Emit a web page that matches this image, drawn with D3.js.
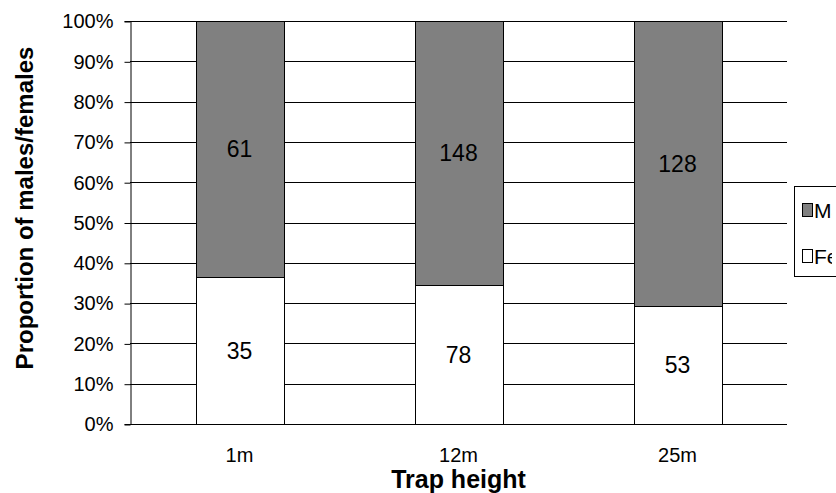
<!DOCTYPE html>
<html><head><meta charset="utf-8">
<script src="https://cdn.jsdelivr.net/npm/d3@7"></script>
<style>body{margin:0;background:#fff;overflow:hidden}svg{display:block;font-family:"Liberation Sans",Arial,sans-serif}</style>
</head><body>
<svg id="c" width="836" height="493"></svg>
<script>
const categories = ["1m","12m","25m"];
const females = [35,78,53];
const males = [61,148,128];
const seriesNames = ["Males","Females"];
const yTicks = [0,0.1,0.2,0.3,0.4,0.5,0.6,0.7,0.8,0.9,1];

const svg = d3.select("#c");
const m = {l:130, r:787, t:21, b:424};
const x = d3.scaleBand().domain(categories).range([m.l,m.r]).paddingInner(0.6).paddingOuter(0.3);
const y = d3.scaleLinear().domain([0,1]).range([m.b,m.t]);

svg.append("g").selectAll("line").data(yTicks.slice(1)).join("line")
  .attr("x1",m.l).attr("x2",m.r).attr("y1",d=>Math.round(y(d))+0.5).attr("y2",d=>Math.round(y(d))+0.5)
  .attr("stroke","#000").attr("stroke-width",1);

const data = categories.map((c,i)=>{const t=females[i]+males[i];return {c,f:females[i],m:males[i],fp:females[i]/t};});

const g = svg.append("g");
g.selectAll("rect.f").data(data).join("rect").attr("class","f")
  .attr("x",d=>Math.round(x(d.c))+0.5).attr("width",Math.round(x.bandwidth()))
  .attr("y",d=>Math.round(y(d.fp))+0.5).attr("height",d=>Math.round(y(0))-Math.round(y(d.fp)))
  .attr("fill","#fff").attr("stroke","#000");
g.selectAll("rect.m").data(data).join("rect").attr("class","m")
  .attr("x",d=>Math.round(x(d.c))+0.5).attr("width",Math.round(x.bandwidth()))
  .attr("y",Math.round(y(1))+0.5).attr("height",d=>Math.round(y(d.fp))-Math.round(y(1)))
  .attr("fill","#808080").attr("stroke","#000");

g.selectAll("text.fl").data(data).join("text")
  .attr("x",d=>x(d.c)+x.bandwidth()/2).attr("y",d=>y(d.fp/2)).attr("dy","0.36em")
  .attr("text-anchor","middle").attr("font-size",23).text(d=>d.f);
g.selectAll("text.ml").data(data).join("text")
  .attr("x",d=>x(d.c)+x.bandwidth()/2).attr("y",d=>y((d.fp+1)/2)).attr("dy","0.36em")
  .attr("text-anchor","middle").attr("font-size",23).text(d=>d.m);

const ya = svg.append("g").attr("transform",`translate(${m.l+0.5},0)`)
  .call(d3.axisLeft(y).tickValues(yTicks).tickFormat(d3.format(".0%")).tickSize(6).tickPadding(11));
ya.select(".domain").attr("stroke","#000");
ya.selectAll(".tick line").attr("transform","translate(0,0.5)");
ya.selectAll("text").attr("font-size",20).attr("font-family","Liberation Sans, Arial").attr("fill","#000").attr("dy","0.34em");

svg.append("line").attr("x1",m.l).attr("x2",m.r).attr("y1",Math.round(y(0))+0.5).attr("y2",Math.round(y(0))+0.5).attr("stroke","#000");
svg.append("g").selectAll("text").data(categories).join("text")
  .attr("x",d=>x(d)+x.bandwidth()/2).attr("y",462)
  .attr("text-anchor","middle").attr("font-size",20).text(d=>d);

svg.append("text").attr("x",(m.l+m.r)/2).attr("y",488)
  .attr("text-anchor","middle").attr("font-size",25).attr("font-weight","bold").text("Trap height");
svg.append("text").attr("transform","translate(24,208) rotate(-90)").attr("dy","0.36em")
  .attr("text-anchor","middle").attr("font-size",24).attr("font-weight","bold").text("Proportion of males/females");

const defs = svg.append("defs");
defs.append("clipPath").attr("id","lgclip").append("rect").attr("x",790).attr("y",180).attr("width",42).attr("height",110);
const lg = svg.append("g");
lg.append("rect").attr("x",794.5).attr("y",186.5).attr("width",80).attr("height",90).attr("fill","#fff").attr("stroke","#000");
const cols = ["#808080","#fff"];
const lgt = lg.append("g").attr("clip-path","url(#lgclip)");
seriesNames.forEach((s,i)=>{
  const yy = [210,256][i];
  lg.append("rect").attr("x",802.5).attr("y",yy-6.5).attr("width",10).attr("height",13).attr("fill",cols[i]).attr("stroke","#000");
  lgt.append("text").attr("x",814).attr("y",yy).attr("dy","0.36em").attr("font-size",21).text(s);
});
</script>
</body></html>
